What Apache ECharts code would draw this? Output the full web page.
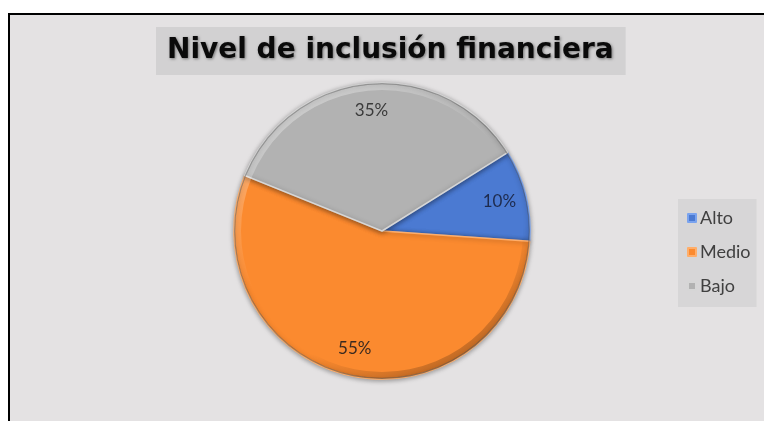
<!DOCTYPE html>
<html>
<head>
<meta charset="utf-8">
<script src="https://cdn.jsdelivr.net/npm/echarts@6/dist/echarts.min.js"></script>
<style>
  html, body { margin: 0; padding: 0; background: #ffffff; }
  #frame {
    position: absolute; left: 8px; top: 13px; right: 0; bottom: 0;
    border-left: 2px solid #000; border-top: 2px solid #000;
    background: #e4e2e3;
  }
  #chart { position: absolute; left: 0; top: 0; width: 764px; height: 421px; }
</style>
</head>
<body>
<div id="frame"></div>
<div id="chart"></div>
<script>
// Share of respondents by level of financial inclusion
const titleText = 'Nivel de inclusión financiera';
const categories = ['Alto', 'Medio', 'Bajo'];
const shares = [10, 55, 35];
const sliceColors = ['#4b7ad2', '#fb8a2f', '#b2b2b2'];
const sliceEdges = ['#7aa3ee', '#ffae6a', '#d6d6d6'];
const labelColors = ['#1e2b4d', '#3b2a20', '#3a3a3a'];

const chart = echarts.init(document.getElementById('chart'), null, { renderer: 'canvas' });

const center = [382, 231];
const outer = 148;

const sliceData = categories.map((name, i) => ({
  name: name,
  value: shares[i],
  itemStyle: { color: sliceColors[i], borderColor: sliceEdges[i] }
}));

const labelData = categories.map((name, i) => ({
  name: name,
  value: shares[i],
  label: { color: labelColors[i] }
}));

chart.setOption({
  backgroundColor: 'transparent',
  animation: false,
  title: {
    text: titleText,
    left: 156,
    top: 27,
    backgroundColor: '#d2d1d2',
    padding: [10, 12, 10, 11],
    textStyle: {
      fontFamily: 'DejaVu Sans',
      fontSize: 28,
      fontWeight: 'bold',
      lineHeight: 28,
      color: '#0a0a0a',
      textShadowColor: 'rgba(0,0,0,0.45)',
      textShadowBlur: 3,
      textShadowOffsetX: 1,
      textShadowOffsetY: 1
    }
  },
  legend: {
    orient: 'vertical',
    left: 678,
    top: 199,
    data: categories,
    backgroundColor: '#d7d6d7',
    padding: [10, 6, 12, 9],
    itemWidth: 8,
    itemHeight: 8,
    itemGap: 16,
    icon: 'rect',
    selectedMode: false,
    textStyle: {
      fontFamily: 'Lato',
      fontSize: 18,
      lineHeight: 17,
      color: '#404040',
      padding: [0, 0, 0, -1]
    }
  },
  series: [
    {
      // main pie
      type: 'pie',
      center: center,
      radius: [0, outer],
      startAngle: 32,
      clockwise: true,
      silent: true,
      label: { show: false },
      labelLine: { show: false },
      itemStyle: {
        borderWidth: 1.5,
        shadowBlur: 5,
        shadowColor: 'rgba(0,0,0,0.35)',
        shadowOffsetY: 1
      },
      data: sliceData
    },
    {
      // rim shading around the pie
      type: 'pie',
      center: center,
      radius: [outer - 7, outer],
      silent: true,
      label: { show: false },
      labelLine: { show: false },
      itemStyle: {
        color: {
          type: 'linear', x: 0.2, y: 0, x2: 0.8, y2: 1,
          colorStops: [
            { offset: 0, color: 'rgba(255,255,255,0.4)' },
            { offset: 0.45, color: 'rgba(255,255,255,0.0)' },
            { offset: 0.7, color: 'rgba(0,0,0,0.0)' },
            { offset: 1, color: 'rgba(0,0,0,0.28)' }
          ]
        }
      },
      data: [{ value: 1, name: '' }]
    },
    {
      // thin dark outline on the pie edge
      type: 'pie',
      center: center,
      radius: [outer - 1.2, outer],
      silent: true,
      label: { show: false },
      labelLine: { show: false },
      itemStyle: { color: 'rgba(70,70,70,0.45)' },
      data: [{ value: 1, name: '' }]
    },
    {
      // percentage labels, placed on a transparent ring
      type: 'pie',
      center: center,
      radius: [88, outer],
      startAngle: 32,
      clockwise: true,
      silent: true,
      itemStyle: { color: 'rgba(0,0,0,0)' },
      label: {
        show: true,
        position: 'inside',
        fontFamily: 'Lato',
        fontSize: 17,
        formatter: p => p.value + '%'
      },
      labelLine: { show: false },
      data: labelData
    }
  ]
});
</script>
</body>
</html>
